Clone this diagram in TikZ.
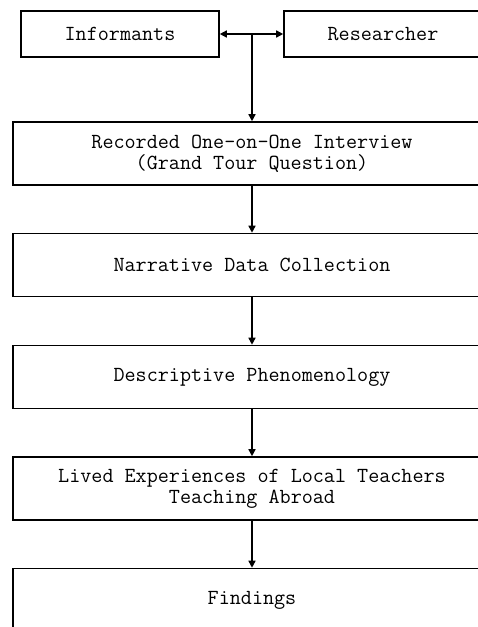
\documentclass[tikz,border=0pt]{standalone}
\usetikzlibrary{arrows.meta}
\begin{document}
\begin{tikzpicture}[x=1pt,y=1pt,
  box/.style={draw=black,line width=1.6pt,minimum width=198pt,minimum height=46pt,inner sep=0pt,align=center,
    font=\ttfamily\fontsize{21.5}{21}\selectfont},
  bigbox/.style={box,minimum width=478pt,minimum height=63pt},
  conn/.style={line width=1.5pt,-{Triangle[length=7pt,width=7pt]}}]
\useasboundingbox (0,0) rectangle (478,-627);
\clip (0,0) rectangle (478,-627);
\fill[white] (0,0) rectangle (478,-627);
\node[box] (inf) at (120,-34) {Informants};
\node[box] (res) at (383,-34) {Researcher};
\node[bigbox] (b1) at (252,-153.5) {Recorded One-on-One Interview\\(Grand Tour Question)};
\node[bigbox] (b2) at (252,-265) {Narrative Data Collection};
\node[bigbox] (b3) at (252,-377) {Descriptive Phenomenology};
\node[bigbox] (b4) at (252,-488.5) {Lived Experiences of Local Teachers\\Teaching Abroad};
\node[bigbox] (b5) at (252,-600) {Findings};
\coordinate (j) at (252,-34);
\draw[conn] (j) -- (inf.east);
\draw[conn] (j) -- (res.west);
\draw[conn] (j) -- (b1.north);
\draw[conn] (b1) -- (b2);
\draw[conn] (b2) -- (b3);
\draw[conn] (b3) -- (b4);
\draw[conn] (b4) -- (b5);
\end{tikzpicture}
\end{document}
